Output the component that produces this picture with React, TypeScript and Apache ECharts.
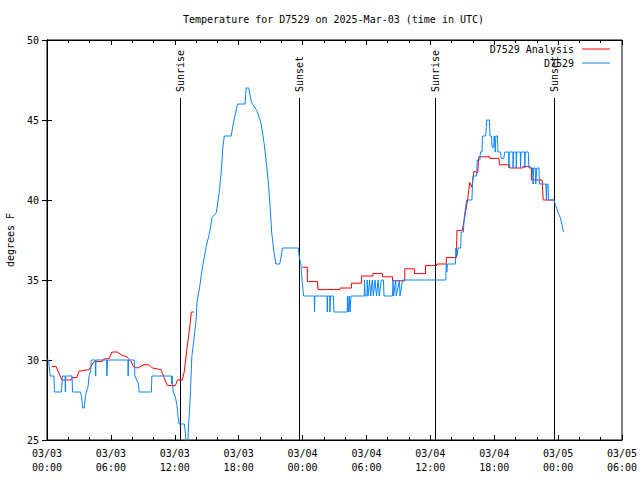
import React, { useEffect, useRef } from "react";
import * as echarts from "echarts";

const titleText = "Temperature for D7529 on 2025-Mar-03 (time in UTC)";
const yAxisName = "degrees F";
const analysisName = "D7529 Analysis";
const observedName = "D7529";
const xTickLabels = [
  "03/03\n00:00", "03/03\n06:00", "03/03\n12:00", "03/03\n18:00", "03/04\n00:00",
  "03/04\n06:00", "03/04\n12:00", "03/04\n18:00", "03/05\n00:00", "03/05\n06:00",
];
const sunHours = [12.5, 23.65, 36.4, 47.6];
const sunLabels = ["Sunrise", "Sunset", "Sunrise", "Sunset"];

// [hours since 03/03 00:00 UTC, degrees F]
const observed: [number, number][] = [
  [0.0, 30], [0.15, 30], [0.2, 29.6], [0.3, 29], [0.65, 29], [0.7, 28], [1.35, 28], [1.45, 29],
  [1.7, 29], [1.72, 28], [1.76, 29], [2.35, 29], [2.4, 28], [3.15, 28], [3.25, 27.7], [3.35, 27],
  [3.5, 27], [3.6, 27.7], [3.7, 28], [3.85, 28.3], [3.95, 29], [4.1, 29.3], [4.15, 30], [4.55, 30],
  [4.57, 29], [4.6, 30], [5.6, 30], [5.62, 29], [5.66, 29.5], [5.68, 30], [7.6, 30], [7.62, 29],
  [7.65, 30], [8.2, 30], [8.25, 29], [8.6, 28.5], [8.65, 28], [9.8, 28], [9.85, 29], [11.7, 29],
  [11.72, 28.5], [11.75, 29], [11.8, 28.5], [11.85, 28], [12.05, 27.7], [12.2, 27.2], [12.3, 26.5],
  [12.4, 26], [12.9, 26], [13.0, 25.4], [13.1, 24.5], [13.2, 24.5], [13.3, 26], [13.4, 27],
  [13.5, 28.5], [13.6, 30.2], [13.8, 31.3], [14.0, 32.5], [14.1, 33.7], [14.3, 34.4], [14.6, 35.8],
  [14.95, 37.1], [15.25, 37.9], [15.5, 38.9], [15.9, 39.2], [16.2, 40.6], [16.4, 42.1], [16.5, 43.2],
  [16.65, 44], [17.3, 44], [17.5, 44.8], [17.9, 46], [18.6, 46], [18.7, 47], [18.95, 47], [19.2, 46.1],
  [19.7, 45.6], [20.1, 44.8], [20.4, 43.5], [20.6, 42.3], [20.8, 41], [20.95, 39.6], [21.1, 38],
  [21.3, 36.8], [21.5, 36], [21.85, 36], [22.0, 36.5], [22.1, 37], [23.6, 37], [23.7, 36.4],
  [23.85, 36], [23.95, 35], [24.1, 34], [25.1, 34], [25.12, 33], [25.16, 34], [26.3, 34], [26.32, 33],
  [26.36, 34], [26.55, 34], [26.57, 33], [26.62, 34], [26.9, 34], [26.95, 33], [28.2, 33], [28.22, 34],
  [28.3, 33], [28.38, 34], [28.46, 33], [28.55, 34], [29.8, 34], [29.82, 35], [29.88, 34], [30.05, 34],
  [30.07, 35], [30.15, 34], [30.3, 35], [30.4, 34], [30.55, 35], [30.65, 34], [30.8, 35], [30.95, 34],
  [31.1, 35], [31.2, 34], [31.4, 35], [31.6, 35], [31.65, 34], [32.45, 34], [32.5, 35], [32.55, 34],
  [32.75, 35], [32.8, 34], [33.1, 35], [33.15, 34], [33.4, 35], [37.45, 35], [37.5, 36], [37.55, 35.5],
  [37.6, 36], [38.35, 36], [38.4, 37], [38.5, 36.5], [38.6, 37], [38.85, 37], [38.9, 38], [39.1, 38],
  [39.2, 39], [39.4, 40], [39.9, 40], [40.0, 41.5], [40.35, 41.5], [40.4, 42.5], [40.65, 42.5],
  [40.7, 43], [40.85, 43], [40.9, 44], [41.2, 44], [41.3, 45], [41.55, 45], [41.6, 44], [41.75, 44],
  [41.8, 43.3], [41.95, 43.3], [42.0, 44], [42.1, 43], [42.15, 44], [42.3, 44], [42.35, 43], [42.6, 43],
  [42.65, 42.6], [42.9, 42.6], [43.0, 43], [43.35, 43], [43.37, 42], [43.42, 43], [43.75, 43],
  [43.77, 42], [43.82, 43], [44.05, 43], [44.07, 42], [44.12, 43], [44.45, 43], [44.47, 42],
  [44.52, 43], [44.85, 43], [44.87, 42], [44.92, 43], [45.2, 43], [45.25, 42], [45.6, 42], [45.65, 41],
  [45.7, 42], [45.85, 42], [45.9, 41], [46.0, 42], [46.2, 42], [46.25, 41], [46.85, 41], [46.9, 40],
  [46.95, 41], [47.05, 41], [47.1, 40], [47.6, 40], [47.8, 39.6], [48.0, 39.2], [48.2, 38.9],
  [48.35, 38.5], [48.5, 38],
];

const analysisMorning: [number, number][] = [
  [0.45, 29.6], [0.85, 29.6], [1.1, 29.2], [1.4, 28.75], [2.25, 28.75], [2.35, 28.9], [2.8, 28.9],
  [3.0, 29.3], [3.95, 29.4], [4.4, 29.9], [5.2, 29.9], [5.3, 30.05], [5.85, 30.1], [6.1, 30.5],
  [6.6, 30.5], [7.05, 30.3], [7.5, 30.2], [7.9, 29.9], [8.1, 29.6], [8.5, 29.5], [9.1, 29.7],
  [9.6, 29.7], [9.9, 29.5], [10.7, 29.4], [11.0, 28.9], [11.3, 28.4], [12.05, 28.4], [12.25, 28.75],
  [12.7, 28.75], [12.9, 29.3], [13.1, 30.5], [13.3, 31.5], [13.45, 32.3], [13.55, 33.0], [13.8, 33.0],
];
const analysisLater: [number, number][] = [
  [24.0, 35.8], [24.45, 35.8], [24.45, 34.9], [25.4, 34.9], [25.45, 34.4], [27.5, 34.4], [27.5, 34.5],
  [28.6, 34.5], [28.6, 34.8], [29.55, 34.8], [29.55, 35.25], [30.6, 35.25], [30.6, 35.4], [31.5, 35.4],
  [31.5, 35.2], [32.45, 35.2], [32.45, 34.95], [33.6, 34.95], [33.6, 35.7], [34.5, 35.7], [34.5, 35.4],
  [35.55, 35.4], [35.55, 35.9], [36.6, 35.9], [36.6, 36.0], [37.5, 36.0], [37.5, 36.4], [38.45, 36.4],
  [38.5, 38.1], [39.0, 38.1], [39.3, 39.2], [39.5, 40], [39.7, 41.1], [39.9, 40.8], [40.1, 41.8],
  [40.45, 41.7], [40.55, 42.7], [41.6, 42.7], [41.6, 42.6], [42.45, 42.6], [42.5, 42.2], [43.45, 42.2],
  [43.45, 42.0], [44.7, 42.0], [44.7, 42.1], [45.35, 42.1], [45.4, 42.0], [45.5, 42.0], [45.5, 41.25],
  [46.5, 41.25], [46.55, 40.6], [46.6, 40], [47.6, 40],
];

const FONT = "'DejaVu Sans Mono', 'Liberation Mono', monospace";

export default function App() {
  const ref = useRef<HTMLDivElement>(null);
  useEffect(() => {
    if (!ref.current) return;
    const chart = echarts.init(ref.current, undefined, { renderer: "svg" });
    const axisCommon = {
      axisLine: { show: true, lineStyle: { color: "#000", width: 1 } },
      splitLine: { show: false },
    };
    chart.setOption({
      animation: false,
      backgroundColor: "#fff",
      title: {
        text: titleText,
        left: 178,
        top: 9,
        textStyle: { fontFamily: FONT, fontSize: 10, fontWeight: "normal", color: "#000" },
      },
      legend: {
        data: [analysisName, observedName],
        orient: "vertical",
        right: 25,
        top: 39,
        align: "right",
        icon: "rect",
        itemWidth: 28,
        itemHeight: 1,
        itemGap: 4,
        textStyle: { fontFamily: FONT, fontSize: 10, color: "#000", padding: [0, 3, 0, 0] },
      },
      grid: {
        left: 47, right: 18, top: 40, bottom: 40,
        containLabel: false,
        outerBoundsMode: "none",
        show: true, borderColor: "#000", borderWidth: 1, backgroundColor: "transparent",
      },
      xAxis: [
        {
          type: "value", min: 0, max: 54, interval: 6, position: "bottom",
          ...axisCommon,
          axisTick: { show: true, inside: true, length: 5, lineStyle: { color: "#000" } },
          minorTick: { show: true, splitNumber: 3, length: 3, lineStyle: { color: "#000" } },
          axisLabel: {
            fontFamily: FONT, fontSize: 10, color: "#000", lineHeight: 14, margin: 6,
            formatter: (v: number) => xTickLabels[Math.round(v / 6)] ?? "",
          },
        },
        {
          type: "value", min: 0, max: 54, interval: 6, position: "top",
          ...axisCommon,
          axisTick: { show: true, inside: true, length: 5, lineStyle: { color: "#000" } },
          minorTick: { show: true, splitNumber: 3, length: 3, lineStyle: { color: "#000" } },
          axisLabel: { show: false },
        },
      ],
      yAxis: [
        {
          type: "value", min: 25, max: 50, interval: 5, position: "left",
          ...axisCommon,
          axisTick: { show: true, inside: true, length: 5, lineStyle: { color: "#000" } },
          axisLabel: { fontFamily: FONT, fontSize: 10, color: "#000", margin: 8 },
          name: yAxisName,
          nameLocation: "middle",
          nameGap: 32,
          nameTextStyle: { fontFamily: FONT, fontSize: 10, color: "#000" },
        },
        {
          type: "value", min: 25, max: 50, interval: 5, position: "right",
          ...axisCommon,
          axisTick: { show: true, inside: true, length: 5, lineStyle: { color: "#000" } },
          axisLabel: { show: false },
        },
      ],
      series: [
        {
          type: "custom",
          name: "sun",
          xAxisIndex: 0,
          yAxisIndex: 0,
          silent: true,
          data: sunHours.map((h, i) => [h, 25, i]),
          encode: { x: 0, y: 1 },
          renderItem: (params: any, api: any) => {
            const cs = params.coordSys;
            const x = Math.round(api.coord([api.value(0), 25])[0]) + 0.5;
            const idx = api.value(2);
            return {
              type: "group",
              children: [
                {
                  type: "line",
                  shape: { x1: x, y1: cs.y + cs.height, x2: x, y2: cs.y + 58 },
                  style: { stroke: "#000", lineWidth: 1 },
                },
                {
                  type: "text",
                  x: x,
                  y: cs.y + 52,
                  rotation: Math.PI / 2,
                  style: {
                    text: sunLabels[idx],
                    fontFamily: FONT,
                    fontSize: 10,
                    fill: "#000",
                    align: "left",
                    verticalAlign: "middle",
                  },
                },
              ],
            };
          },
          z: 1,
        },
        {
          type: "line",
          name: analysisName,
          color: "#ff0000",
          data: [...analysisMorning, [18, null], ...analysisLater],
          showSymbol: false,
          symbol: "none",
          connectNulls: false,
          lineStyle: { color: "#ff0000", width: 1 },
          clip: true,
          z: 2,
        },
        {
          type: "line",
          name: observedName,
          color: "#0a84ff",
          data: observed,
          showSymbol: false,
          symbol: "none",
          lineStyle: { color: "#0a84ff", width: 1 },
          clip: true,
          z: 3,
        },
      ],
    });
    return () => chart.dispose();
  }, []);
  return <div ref={ref} style={{ width: 640, height: 480, position: "absolute", left: 0, top: 0 }} />;
}
